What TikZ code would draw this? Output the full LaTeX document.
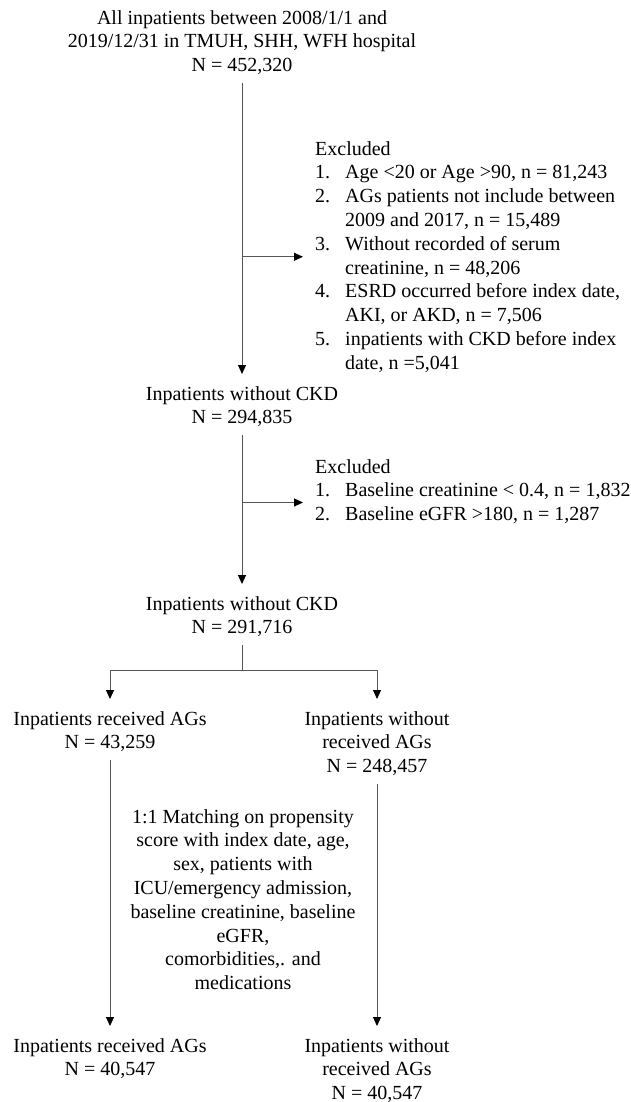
\documentclass[tikz,border=0pt]{standalone}
\usepackage{fontspec}
\setmainfont{Liberation Serif}
\usepackage{tikz}
\usetikzlibrary{arrows.meta,calc}
\definecolor{linegrey}{RGB}{85,85,85}
\newcommand{\itm}[1]{\makebox[30pt][l]{#1}}

\begin{document}
\begin{tikzpicture}[x=1pt,y=-1pt,
    txt/.style={font=\fontsize{20}{23.8}\selectfont,inner xsep=0pt,inner ysep=0pt,align=center},
    flow/.style={txt,inner ysep=8pt,anchor=north},
    excl/.style={txt,align=left,inner xsep=8pt,anchor=north west},
    arr/.style={draw=linegrey,line width=1pt,-{Triangle[width=8pt,length=9pt,color=black]},shorten >=4pt}]
  \useasboundingbox (0,0) rectangle (630,1102);
  % Cohort nodes
  \node[flow] (all) at (242,2) {All inpatients between 2008/1/1 and\\2019/12/31 in TMUH, SHH, WFH hospital\\N = 452,320};
  \node[flow] (nockd1) at (242,378) {Inpatients without CKD\\N = 294,835};
  \node[flow] (nockd2) at (242,588) {Inpatients without CKD\\N = 291,716};
  \node[flow] (ags) at (110,703) {Inpatients received AGs\\N = 43,259};
  \node[flow] (noags) at (377,703) {Inpatients without\\received AGs\\N = 248,457};
  \node[flow] (agsm) at (110,1030) {Inpatients received AGs\\N = 40,547};
  \node[flow] (noagsm) at (377,1030) {Inpatients without\\received AGs\\N = 40,547};
  % Exclusions
  \node[excl] (excl1) at (307,141) {Excluded\\
    \itm{1.}Age <20 or Age >90, n = 81,243\\
    \itm{2.}AGs patients not include between\\
    \itm{}2009 and 2017, n = 15,489\\
    \itm{3.}Without recorded of serum\\
    \itm{}creatinine, n = 48,206\\
    \itm{4.}ESRD occurred before index date,\\
    \itm{}AKI, or AKD, n = 7,506\\
    \itm{5.}inpatients with CKD before index\\
    \itm{}date, n =5,041};
  \node[excl] (excl2) at (307,459) {Excluded\\
    \itm{1.}Baseline creatinine < 0.4, n = 1,832\\
    \itm{2.}Baseline eGFR >180, n = 1,287};
  \coordinate (ex2) at ($(excl2.west)+(0,11)$);
  % Matching
  \node[txt,anchor=north] (match) at (243,809) {1:1 Matching on propensity\\score with index date, age,\\sex, patients with\\ICU/emergency admission,\\baseline creatinine, baseline\\eGFR,\\comorbidities,. and\\medications};
  % Arrows
  \draw[arr] (all.south) -- (nockd1.north);
  \draw[arr] (all.south |- excl1.west) -- (excl1.west);
  \draw[arr] (nockd1.south) -- (nockd2.north);
  \draw[arr] (nockd1.south |- ex2) -- (ex2);
  \draw[arr] (nockd2.south) -- ++(0,25) -| (ags.north);
  \draw[arr] (nockd2.south) -- ++(0,25) -| (noags.north);
  \draw[arr] (ags.south) -- (agsm.north);
  \draw[arr] (noags.south) -- (noagsm.north);
\end{tikzpicture}
\end{document}
